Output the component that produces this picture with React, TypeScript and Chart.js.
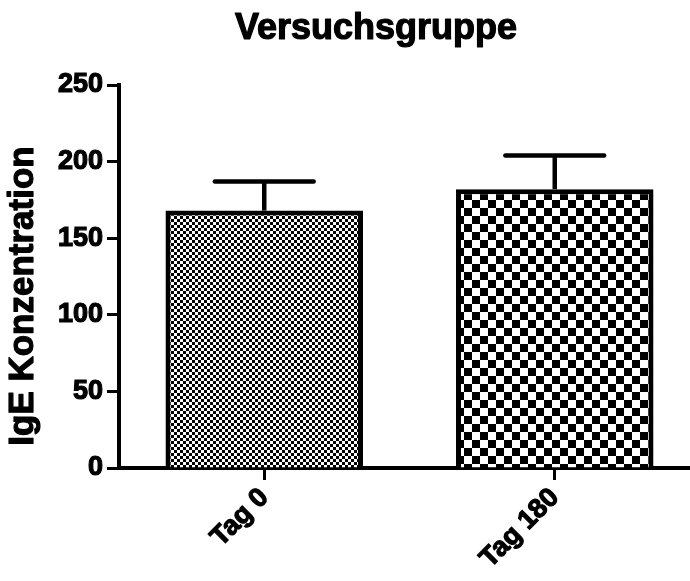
import React, { useEffect, useRef } from "react";
import { Chart, registerables } from "chart.js";

Chart.register(...registerables);

const categories = ["Tag 0", "Tag 180"];
const means = [168, 182];
const errorTops = [187, 204];
const yTicks = [0, 50, 100, 150, 200, 250];
const checkerCells = [3, 8];
const chartTitle = "Versuchsgruppe";
const yAxisTitle = "IgE Konzentration";

const FAMILY = "'Liberation Sans', Arial, Helvetica, sans-serif";

function makeChecker(ctx: CanvasRenderingContext2D, cell: number) {
  const c = document.createElement("canvas");
  c.width = cell * 2;
  c.height = cell * 2;
  const p = c.getContext("2d")!;
  p.fillStyle = "#fff";
  p.fillRect(0, 0, cell * 2, cell * 2);
  p.fillStyle = "#000";
  p.fillRect(0, 0, cell, cell);
  p.fillRect(cell, cell, cell, cell);
  return ctx.createPattern(c, "repeat")!;
}

const errorBarPlugin = {
  id: "errorBars",
  afterDatasetsDraw(chart: any) {
    const ctx = chart.ctx as CanvasRenderingContext2D;
    const meta = chart.getDatasetMeta(0);
    const y = chart.scales.y;
    ctx.save();
    ctx.strokeStyle = "#000";
    ctx.lineWidth = 4.5;
    meta.data.forEach((bar: any, i: number) => {
      const { x, width } = bar.getProps(["x", "width"], true);
      const top = y.getPixelForValue(means[i]);
      const cap = y.getPixelForValue(errorTops[i]);
      const half = width / 4;
      ctx.lineCap = "butt";
      ctx.beginPath();
      ctx.moveTo(x, top);
      ctx.lineTo(x, cap);
      ctx.stroke();
      ctx.lineCap = "round";
      ctx.beginPath();
      ctx.moveTo(x - half, cap);
      ctx.lineTo(x + half, cap);
      ctx.stroke();
    });
    ctx.restore();
  },
};

function heavyText(ctx: CanvasRenderingContext2D, text: string, x: number, y: number) {
  ctx.lineWidth = 1.2;
  ctx.strokeStyle = "#000";
  ctx.lineJoin = "round";
  ctx.strokeText(text, x, y);
  ctx.fillText(text, x, y);
}

const titlesPlugin = {
  id: "titles",
  afterDraw(chart: any) {
    const ctx = chart.ctx as CanvasRenderingContext2D;
    ctx.save();
    ctx.fillStyle = "#000";
    ctx.font = `bold 36px ${FAMILY}`;
    ctx.textAlign = "center";
    ctx.textBaseline = "alphabetic";
    heavyText(ctx, chartTitle, 376, 39);
    ctx.restore();

    ctx.save();
    ctx.fillStyle = "#000";
    ctx.font = `bold 35px ${FAMILY}`;
    ctx.translate(23, 296);
    ctx.rotate(-Math.PI / 2);
    ctx.textAlign = "center";
    ctx.textBaseline = "middle";
    heavyText(ctx, yAxisTitle, 0, 0);
    ctx.restore();
  },
};

export default function App() {
  const ref = useRef<HTMLCanvasElement | null>(null);

  useEffect(() => {
    const canvas = ref.current!;
    const ctx = canvas.getContext("2d")!;
    const patterns = checkerCells.map((c) => makeChecker(ctx, c));
    const tickFont = { family: FAMILY, size: 27, weight: "bold" };
    const chart = new Chart(canvas, {
      type: "bar",
      data: {
        labels: categories,
        datasets: [
          {
            data: means,
            backgroundColor: patterns as any,
            borderColor: "#000",
            borderWidth: 5,
            barPercentage: 0.68,
            categoryPercentage: 1,
          },
        ],
      },
      options: {
        responsive: false,
        animation: false,
        devicePixelRatio: 1,
        layout: { padding: { top: 85, left: 0, right: 0, bottom: 0 } },
        plugins: {
          legend: { display: false },
          tooltip: { enabled: false },
          title: { display: false },
        },
        scales: {
          x: {
            offset: true,
            grid: {
              display: true,
              drawOnChartArea: false,
              drawTicks: true,
              tickLength: 12,
              tickWidth: 3,
              tickColor: "#000",
              offset: false,
            },
            border: { display: true, color: "#000", width: 4 },
            ticks: {
              color: "#000",
              font: tickFont,
              textStrokeColor: "#000",
              textStrokeWidth: 1.2,
              minRotation: 45,
              maxRotation: 45,
              padding: 2,
            },
            afterFit: (s: any) => {
              s.height = 113;
            },
          },
          y: {
            min: 0,
            max: 250,
            afterBuildTicks: (s: any) => {
              s.ticks = yTicks.map((v) => ({ value: v }));
            },
            ticks: {
              color: "#000",
              font: tickFont,
              textStrokeColor: "#000",
              textStrokeWidth: 1.2,
              padding: 4,
            },
            grid: {
              display: true,
              drawOnChartArea: false,
              tickLength: 12,
              tickWidth: 3,
              tickColor: "#000",
            },
            border: { display: true, color: "#000", width: 4 },
            afterFit: (s: any) => {
              s.width = 119;
            },
          },
        },
      } as any,
      plugins: [errorBarPlugin, titlesPlugin],
    });
    return () => chart.destroy();
  }, []);

  return (
    <div
      style={{
        position: "fixed",
        left: 0,
        top: 0,
        width: 690,
        height: 581,
        overflow: "hidden",
        background: "#fff",
      }}
    >
      <canvas ref={ref} width={700} height={581} style={{ width: 700, height: 581, display: "block" }} />
    </div>
  );
}
